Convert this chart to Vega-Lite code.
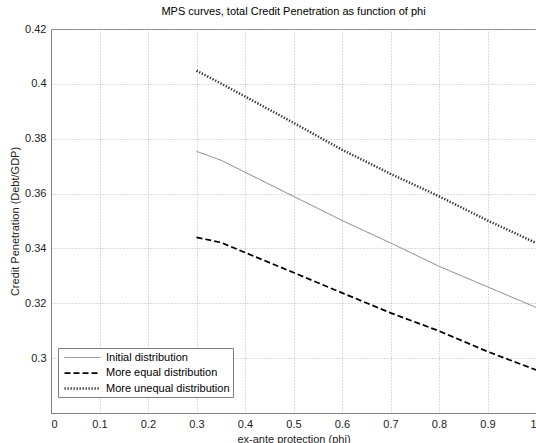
{
  "$schema": "https://vega.github.io/schema/vega-lite/v6.json",
  "width": 485,
  "height": 384,
  "autosize": {"type": "none"},
  "padding": {"left": 51, "top": 29, "right": 0, "bottom": 30},
  "title": {
    "text": "MPS curves, total Credit Penetration as function of phi",
    "fontSize": 11,
    "fontWeight": "normal",
    "font": "Liberation Sans",
    "color": "#000000",
    "anchor": "middle",
    "offset": 6
  },
  "data": {
    "values": [
      {"phi": 0.3, "cp": 0.3754, "series": "Initial distribution"},
      {"phi": 0.35, "cp": 0.3722, "series": "Initial distribution"},
      {"phi": 0.4, "cp": 0.3678, "series": "Initial distribution"},
      {"phi": 0.5, "cp": 0.359, "series": "Initial distribution"},
      {"phi": 0.6, "cp": 0.3502, "series": "Initial distribution"},
      {"phi": 0.7, "cp": 0.342, "series": "Initial distribution"},
      {"phi": 0.8, "cp": 0.3335, "series": "Initial distribution"},
      {"phi": 0.9, "cp": 0.326, "series": "Initial distribution"},
      {"phi": 1.0, "cp": 0.3185, "series": "Initial distribution"},
      {"phi": 0.3, "cp": 0.344, "series": "More equal distribution"},
      {"phi": 0.35, "cp": 0.3422, "series": "More equal distribution"},
      {"phi": 0.4, "cp": 0.3385, "series": "More equal distribution"},
      {"phi": 0.5, "cp": 0.3312, "series": "More equal distribution"},
      {"phi": 0.6, "cp": 0.3238, "series": "More equal distribution"},
      {"phi": 0.7, "cp": 0.3165, "series": "More equal distribution"},
      {"phi": 0.8, "cp": 0.3099, "series": "More equal distribution"},
      {"phi": 0.9, "cp": 0.3024, "series": "More equal distribution"},
      {"phi": 1.0, "cp": 0.2957, "series": "More equal distribution"},
      {"phi": 0.3, "cp": 0.4048, "series": "More unequal distribution"},
      {"phi": 0.35, "cp": 0.4002, "series": "More unequal distribution"},
      {"phi": 0.4, "cp": 0.3954, "series": "More unequal distribution"},
      {"phi": 0.5, "cp": 0.3858, "series": "More unequal distribution"},
      {"phi": 0.6, "cp": 0.376, "series": "More unequal distribution"},
      {"phi": 0.7, "cp": 0.3672, "series": "More unequal distribution"},
      {"phi": 0.8, "cp": 0.359, "series": "More unequal distribution"},
      {"phi": 0.9, "cp": 0.3502, "series": "More unequal distribution"},
      {"phi": 1.0, "cp": 0.342, "series": "More unequal distribution"}
    ]
  },
  "mark": {"type": "line", "strokeCap": "butt", "clip": true},
  "encoding": {
    "x": {
      "field": "phi",
      "type": "quantitative",
      "scale": {"domain": [0, 1], "nice": false, "zero": false},
      "axis": {
        "title": "ex-ante protection (phi)",
        "values": [0, 0.1, 0.2, 0.3, 0.4, 0.5, 0.6, 0.7, 0.8, 0.9, 1],
        "format": "~g",
        "labelPadding": 5,
        "titlePadding": 4
      }
    },
    "y": {
      "field": "cp",
      "type": "quantitative",
      "scale": {"domain": [0.28, 0.42], "nice": false, "zero": false},
      "axis": {
        "title": "Credit Penetration (Debt/GDP)",
        "values": [0.3, 0.32, 0.34, 0.36, 0.38, 0.4, 0.42],
        "format": "~g",
        "labelPadding": 5,
        "titlePadding": 4
      }
    },
    "color": {
      "field": "series",
      "type": "nominal",
      "scale": {
        "domain": ["Initial distribution", "More equal distribution", "More unequal distribution"],
        "range": ["#808080", "#000000", "#333333"]
      },
      "legend": {"title": null}
    },
    "strokeDash": {
      "field": "series",
      "type": "nominal",
      "scale": {
        "domain": ["Initial distribution", "More equal distribution", "More unequal distribution"],
        "range": [[1, 0], [6, 3], [1.3, 1.7]]
      },
      "legend": {"title": null}
    },
    "strokeWidth": {
      "field": "series",
      "type": "nominal",
      "scale": {
        "domain": ["Initial distribution", "More equal distribution", "More unequal distribution"],
        "range": [1, 2.5, 1.3]
      },
      "legend": {"title": null}
    }
  },
  "config": {
    "font": "Liberation Sans",
    "view": {"stroke": "#808080", "strokeWidth": 1},
    "axis": {
      "labelFont": "Liberation Sans",
      "labelFontSize": 11,
      "labelColor": "#222222",
      "titleFont": "Liberation Sans",
      "titleFontSize": 11,
      "titleFontWeight": "normal",
      "titleColor": "#222222",
      "domainColor": "#808080",
      "ticks": false,
      "grid": true,
      "gridColor": "#b8b8b8",
      "gridDash": [1, 2],
      "gridWidth": 1
    },
    "legend": {
      "orient": "none",
      "legendX": 7,
      "legendY": 319,
      "direction": "vertical",
      "symbolType": "M-3,0H3",
      "symbolSize": 144,
      "symbolOffset": 14,
      "labelFont": "Liberation Sans",
      "labelFontSize": 11,
      "labelColor": "#000000",
      "labelOffset": 16,
      "rowPadding": 3,
      "padding": 3,
      "strokeColor": "#808080",
      "fillColor": "#ffffff"
    }
  }
}
